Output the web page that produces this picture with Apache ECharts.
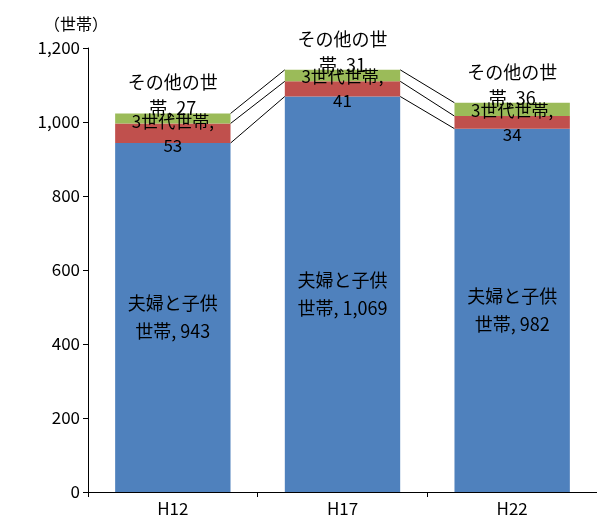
<!DOCTYPE html>
<html><head><meta charset="utf-8">
<script src="https://cdn.jsdelivr.net/npm/echarts@6/dist/echarts.min.js"></script>
</head><body style="margin:0">
<div id="c" style="width:597px;height:528px"></div>
<script>
var years = ['H12', 'H17', 'H22'];
var fuufu = [943, 1069, 982];
var sansedai = [53, 41, 34];
var sonota = [27, 31, 36];

var chart = echarts.init(document.getElementById('c'));
var font = '"Noto Sans CJK JP", sans-serif';
var levels = [fuufu, fuufu.map(function (v, i) { return v + sansedai[i]; }),
  fuufu.map(function (v, i) { return v + sansedai[i] + sonota[i]; })];

option = {
  animation: false,
  textStyle: { fontFamily: font },
  grid: { left: 88, right: 0, top: 48, bottom: 36 },
  xAxis: {
    type: 'category', data: years,
    axisLine: { lineStyle: { color: '#000' } },
    axisTick: { show: true, lineStyle: { color: '#000' } },
    axisLabel: { color: '#000', fontSize: 17, margin: 8 }
  },
  yAxis: {
    type: 'value', min: 0, max: 1200, interval: 200,
    name: '（世帯）', nameGap: 16, nameTextStyle: { color: '#000', fontSize: 16, align: 'right', padding: [0, -20, 0, 0] },
    axisLine: { show: true, lineStyle: { color: '#000' } },
    axisTick: { show: true, lineStyle: { color: '#000' } },
    splitLine: { show: false },
    axisLabel: { color: '#000', fontSize: 17, formatter: function (v) { return v.toLocaleString('en-US'); } }
  },
  series: [
    { name: '夫婦と子供世帯', type: 'bar', stack: 's', data: fuufu, barWidth: '68%',
      itemStyle: { color: '#4f81bd' },
      label: { show: true, position: 'inside', color: '#000', fontSize: 18, lineHeight: 28,
        formatter: function (p) { return '夫婦と子供\n世帯, ' + p.value.toLocaleString('en-US'); } } },
    { name: '3世代世帯', type: 'bar', stack: 's', data: sansedai,
      itemStyle: { color: '#c0504d' },
      label: { show: true, position: 'inside', color: '#000', fontSize: 17, lineHeight: 24,
        formatter: function (p) { return '3世代世帯,\n' + p.value; } } },
    { name: 'その他の世帯', type: 'bar', stack: 's', data: sonota,
      itemStyle: { color: '#9bbb59' },
      label: { show: true, position: 'top', distance: -8, color: '#000', fontSize: 18, lineHeight: 26,
        formatter: function (p) { return 'その他の世\n帯, ' + p.value; } } },
    { type: 'custom', data: [0, 1], z: 1, silent: true,
      renderItem: function (params, api) {
        var i = api.value(0);
        var w = api.size([1, 0])[0] * 0.34;
        var ch = [];
        levels.forEach(function (lv) {
          var a = api.coord([i, lv[i]]), b = api.coord([i + 1, lv[i + 1]]);
          ch.push({ type: 'line', shape: { x1: a[0] + w, y1: a[1], x2: b[0] - w, y2: b[1] },
            style: { stroke: '#000', lineWidth: 1 } });
        });
        return { type: 'group', children: ch };
      } }
  ]
};
chart.setOption(option);
</script></body></html>
